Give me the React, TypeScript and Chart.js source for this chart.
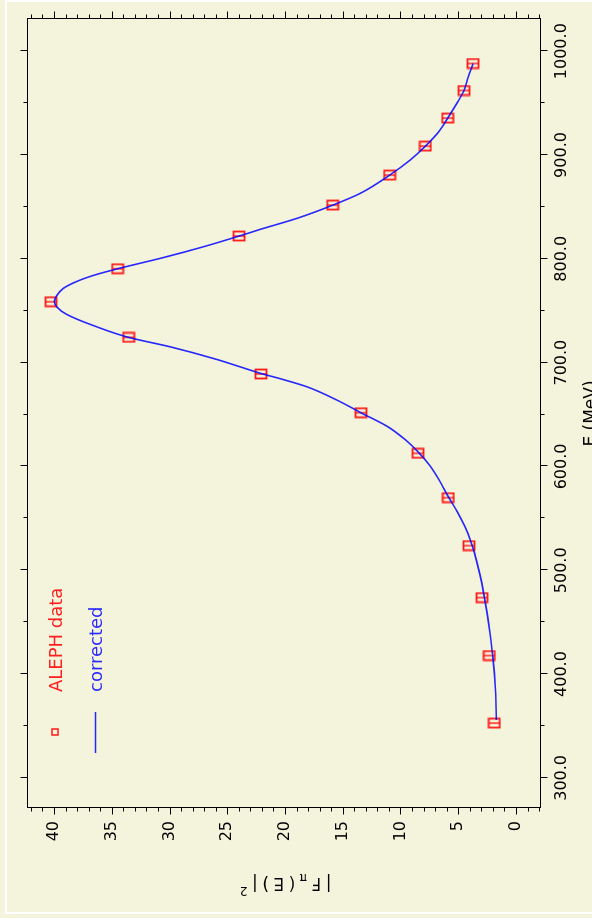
import React, { useEffect, useRef } from "react";
import { Chart, registerables } from "chart.js";

Chart.register(...registerables);

// ---- data ----
const ALEPH_E = [352.7, 417.8, 473.6, 523.7, 569.9, 612.6, 651.7, 689.0, 724.3, 758.6, 790.4, 821.9, 851.7, 880.6, 908.5, 935.5, 962.1, 988.1];
const ALEPH_F2 = [1.88, 2.31, 2.94, 4.07, 5.86, 8.48, 13.42, 22.08, 33.53, 40.26, 34.49, 23.98, 15.87, 10.94, 7.85, 5.91, 4.5, 3.72];

const CURVE_E = [355.8, 370.0, 387.9, 413.6, 439.3, 458.6, 479.4, 497.1, 516.3, 529.2, 542.0, 556.4, 570.9, 586.9, 601.4, 614.2, 625.4, 638.3, 651.7, 664.0, 676.8, 684.8, 689.0, 696.0, 703.1, 715.3, 724.3, 734.5, 746.5, 753.8, 758.6, 764.0, 771.5, 779.5, 785.0, 790.4, 801.3, 811.6, 821.9, 828.3, 838.9, 851.7, 863.0, 880.6, 895.0, 908.5, 923.9, 935.5, 949.6, 962.1, 975.2, 988.1];
const CURVE_F2 = [1.70, 1.73, 1.80, 1.98, 2.25, 2.50, 2.82, 3.15, 3.58, 3.95, 4.42, 5.08, 5.86, 6.65, 7.50, 8.50, 9.55, 11.10, 13.42, 15.52, 18.12, 20.5, 21.9, 23.9, 25.91, 29.96, 33.53, 36.3, 38.9, 39.77, 39.97, 39.8, 39.2, 37.75, 36.3, 34.5, 30.5, 27.07, 23.98, 22.16, 18.99, 15.87, 13.5, 10.94, 9.18, 7.85, 6.58, 5.91, 5.13, 4.5, 4.13, 3.72];

const E_TICKS = [300, 400, 500, 600, 700, 800, 900, 1000];
const F2_TICKS = [0, 5, 10, 15, 20, 25, 30, 35, 40];
const E_MINOR_STEP = 50;
const F2_MINOR_STEP = 1;
const E_MIN = 271;
const E_MAX = 1031;
const F2_MIN = -2.08;
const F2_MAX = 42.34;

const SERIES_NAMES = ["ALEPH data", "corrected"];
const X_TITLE = "E (MeV)";

// ---- styles ----
const BG = "#f4f4dc";
const RED = "rgba(255,0,0,0.9)";
const BLUE = "rgba(10,10,255,0.88)";
const FONT = "DejaVu Sans";
const W = 918; // landscape canvas (rotated -90deg on the page)
const H = 620;

function makeMarker(): HTMLCanvasElement {
  const c = document.createElement("canvas");
  c.width = 12;
  c.height = 14;
  const g = c.getContext("2d")!;
  g.strokeStyle = RED;
  g.lineWidth = 1.8;
  g.strokeRect(1.5, 1.5, 9, 11);
  g.lineWidth = 1.4;
  g.beginPath();
  g.moveTo(6, 1.5);
  g.lineTo(6, 12.5);
  g.stroke();
  return c;
}

const decorPlugin = {
  id: "decor",
  beforeDraw(chart: any) {
    const ctx = chart.ctx;
    ctx.save();
    ctx.fillStyle = BG;
    ctx.fillRect(0, 0, chart.width, chart.height);
    ctx.strokeStyle = "#ffffff";
    ctx.lineWidth = 2;
    ctx.strokeRect(5, 6, 912, 1000);
    ctx.restore();
  },
  afterDraw(chart: any) {
    const ctx = chart.ctx;
    const a = chart.chartArea;
    const x = chart.scales.x;
    const y = chart.scales.y;
    ctx.save();
    ctx.strokeStyle = "#000";
    ctx.lineWidth = 1;
    const L = Math.round(a.left) + 0.5;
    const R = Math.round(a.right) + 0.5;
    const T = Math.round(a.top) + 0.5;
    const B = Math.round(a.bottom) + 0.5;
    ctx.strokeRect(L, T, R - L, B - T);
    ctx.beginPath();
    for (let e = Math.ceil(x.min / E_MINOR_STEP) * E_MINOR_STEP; e <= x.max; e += E_MINOR_STEP) {
      const len = E_TICKS.includes(e) ? 7 : 4;
      const px = Math.round(x.getPixelForValue(e)) + 0.5;
      ctx.moveTo(px, B);
      ctx.lineTo(px, B + len);
      ctx.moveTo(px, T);
      ctx.lineTo(px, T - len);
    }
    for (let f = Math.ceil(y.min / F2_MINOR_STEP) * F2_MINOR_STEP; f <= y.max; f += F2_MINOR_STEP) {
      const len = F2_TICKS.includes(f) ? 7 : 4;
      const py = Math.round(y.getPixelForValue(f)) + 0.5;
      ctx.moveTo(L, py);
      ctx.lineTo(L - len, py);
      ctx.moveTo(R, py);
      ctx.lineTo(R + len, py);
    }
    ctx.stroke();

    // x title
    ctx.fillStyle = "#000";
    ctx.font = `17px "${FONT}"`;
    ctx.textAlign = "center";
    ctx.textBaseline = "alphabetic";
    ctx.fillText(X_TITLE, (a.left + a.right) / 2, 596);

    // y title |F_pi(E)|^2 (rotated)
    const parts = [
      { t: "|F", s: 17, dy: 0 },
      { t: "π", s: 12, dy: 5 },
      { t: "(E)|", s: 17, dy: 0 },
      { t: "2", s: 12, dy: -8 },
    ];
    const sp = 4.5;
    let total = 0;
    const widths = parts.map((p) => {
      ctx.font = `${p.s}px "${FONT}"`;
      const w = ctx.measureText(p.t).width + sp * p.t.length;
      total += w;
      return w;
    });
    ctx.translate(36, (a.top + a.bottom) / 2);
    ctx.rotate(-Math.PI / 2);
    ctx.textAlign = "left";
    ctx.textBaseline = "middle";
    let cx = -total / 2;
    parts.forEach((p, i) => {
      ctx.font = `${p.s}px "${FONT}"`;
      let xx = cx;
      for (const ch of p.t) {
        ctx.fillText(ch, xx, p.dy);
        xx += ctx.measureText(ch).width + sp;
      }
      cx += widths[i];
    });
    ctx.setTransform(1, 0, 0, 1, 0, 0);

    // legend
    ctx.strokeStyle = RED;
    ctx.lineWidth = 1.5;
    ctx.strokeRect(183, 52, 6, 6);
    ctx.strokeStyle = BLUE;
    ctx.lineWidth = 1.6;
    ctx.beginPath();
    ctx.moveTo(165, 95.5);
    ctx.lineTo(206, 95.5);
    ctx.stroke();
    ctx.font = `18px "${FONT}"`;
    ctx.textAlign = "left";
    ctx.textBaseline = "alphabetic";
    ctx.fillStyle = "#ff2020";
    ctx.fillText(SERIES_NAMES[0], 226, 62);
    ctx.fillStyle = "#2a2aff";
    ctx.fillText(SERIES_NAMES[1], 226, 102);
    ctx.restore();
  },
};

export default function App() {
  const ref = useRef<HTMLCanvasElement>(null);
  useEffect(() => {
    if (!ref.current) return;
    const marker = makeMarker();
    const chart = new Chart(ref.current, {
      type: "scatter",
      data: {
        datasets: [
          {
            label: SERIES_NAMES[1],
            data: CURVE_E.map((e, i) => ({ x: e, y: CURVE_F2[i] })),
            showLine: true,
            borderColor: BLUE,
            borderWidth: 1.6,
            pointRadius: 0,
            cubicInterpolationMode: "monotone",
            fill: false,
          },
          {
            label: SERIES_NAMES[0],
            data: ALEPH_E.map((e, i) => ({ x: e, y: ALEPH_F2[i] })),
            pointStyle: marker as any,
            pointRadius: 6,
            showLine: false,
          },
        ],
      },
      options: {
        responsive: false,
        animation: false,
        devicePixelRatio: 1,
        events: [],
        layout: { padding: { left: 0, top: 27, right: 19, bottom: 0 } },
        plugins: { legend: { display: false }, tooltip: { enabled: false } },
        scales: {
          x: {
            type: "linear",
            position: "bottom",
            min: E_MIN,
            max: E_MAX,
            grid: { display: false, drawTicks: false },
            border: { display: false },
            ticks: {
              font: { family: FONT, size: 16 },
              color: "#000",
              padding: 12,
              maxRotation: 0,
              autoSkip: false,
              callback: (v: any) => Number(v).toFixed(1),
            },
            afterBuildTicks: (s: any) => {
              s.ticks = E_TICKS.map((value) => ({ value }));
            },
            afterFit: (s: any) => {
              s.height = H - 540;
            },
          },
          y: {
            type: "linear",
            position: "left",
            min: F2_MIN,
            max: F2_MAX,
            grid: { display: false, drawTicks: false },
            border: { display: false },
            ticks: {
              font: { family: FONT, size: 16 },
              color: "#000",
              padding: 13,
              autoSkip: false,
              callback: (v: any) => String(v),
            },
            afterBuildTicks: (s: any) => {
              s.ticks = F2_TICKS.map((value) => ({ value }));
            },
            afterFit: (s: any) => {
              s.width = 110;
            },
          },
        },
      },
      plugins: [decorPlugin],
    });
    return () => chart.destroy();
  }, []);

  return (
    <div style={{ position: "fixed", left: 0, top: 0, width: 592, height: 918, overflow: "hidden", background: BG }}>
      <div
        style={{
          position: "absolute",
          left: 0,
          top: 0,
          width: W,
          height: H,
          transformOrigin: "0 0",
          transform: "translateY(918px) rotate(-90deg)",
        }}
      >
        <canvas ref={ref} width={W} height={H} style={{ display: "block", width: W, height: H }} />
      </div>
    </div>
  );
}
